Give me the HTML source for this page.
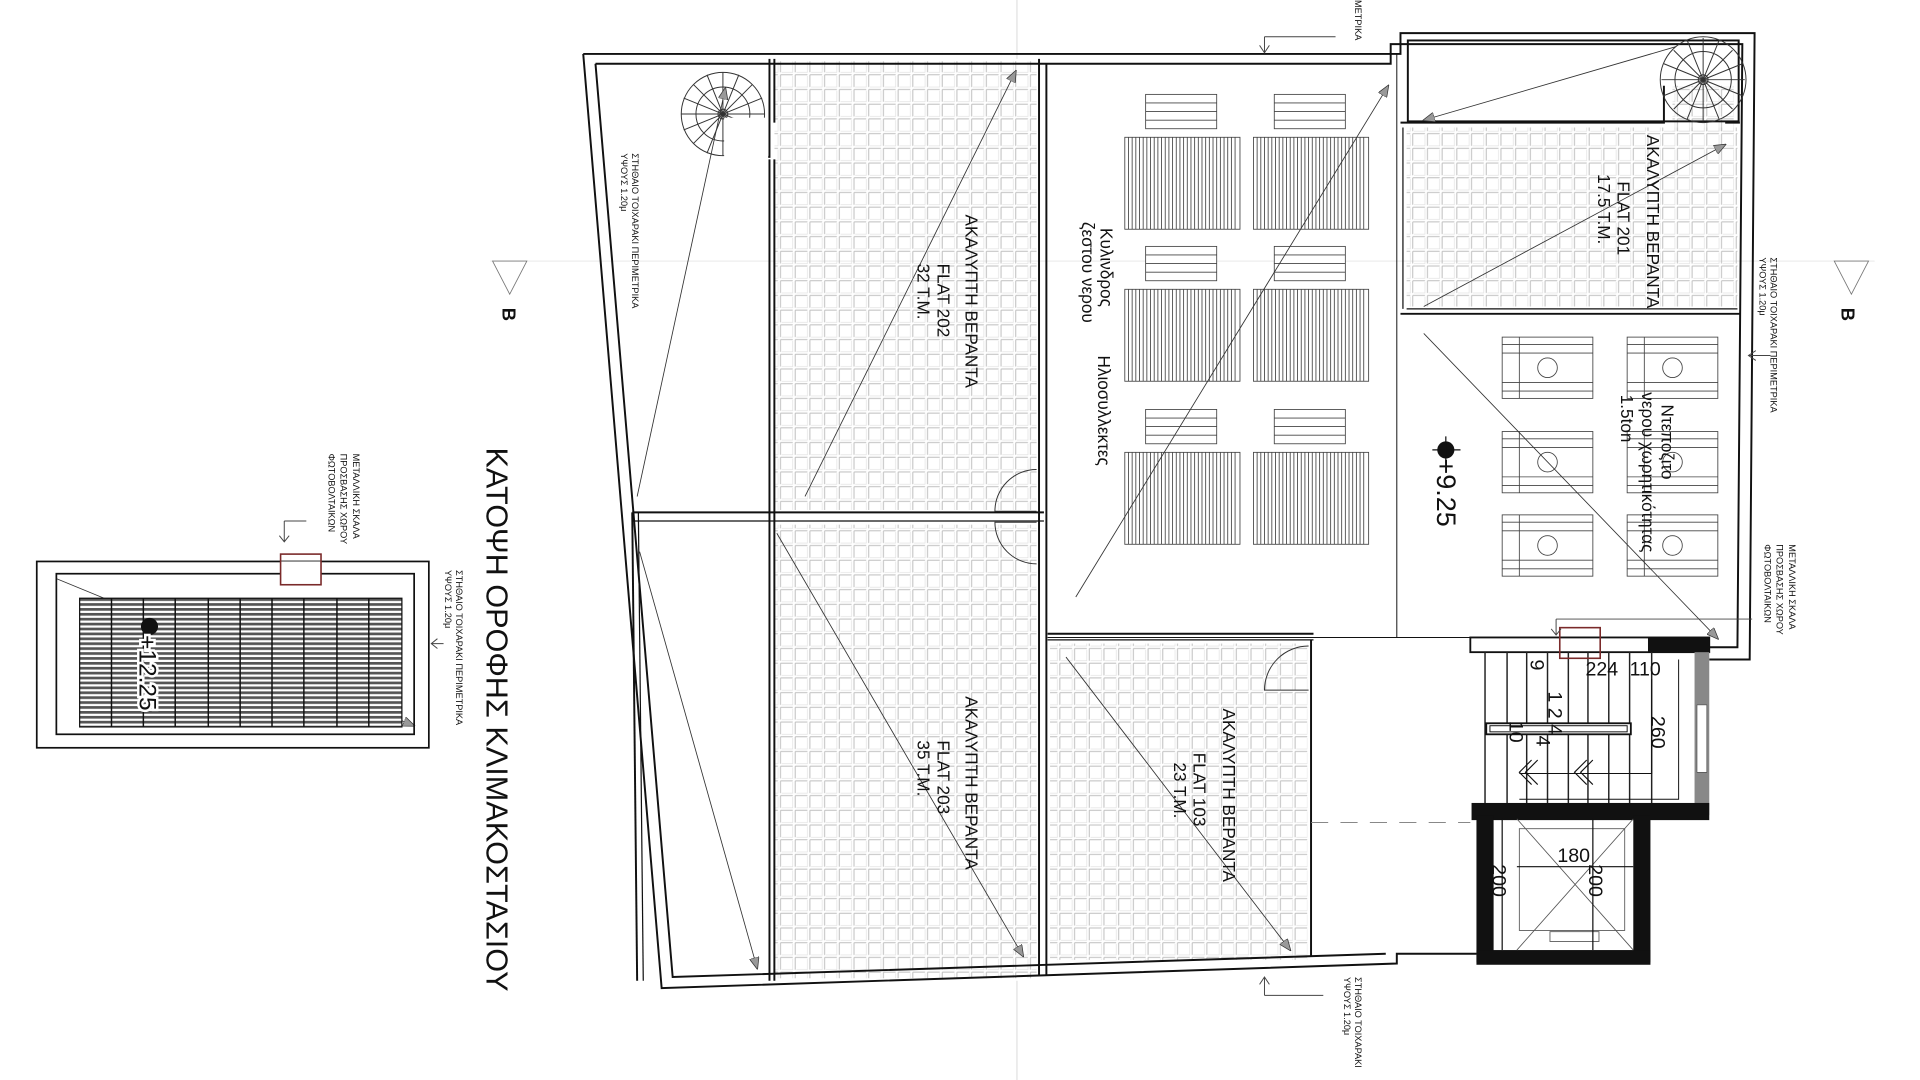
<!DOCTYPE html>
<html><head><meta charset="utf-8"><style>
html,body{margin:0;padding:0;background:#fff;width:1920px;height:1080px;overflow:hidden}
svg{display:block}
text{font-family:"Liberation Sans",sans-serif;fill:#111}
</style></head><body>
<svg width="1920" height="1080" viewBox="0 0 1567 881" preserveAspectRatio="none" xmlns="http://www.w3.org/2000/svg">
<defs>
<pattern id="tile" width="12" height="12" patternUnits="userSpaceOnUse">
<path d="M1,1 H11 M1,1 V11" stroke="#bdbdbd" stroke-width="0.8" fill="none"/>
<path d="M2,11 H11 V2" stroke="#e2e2e2" stroke-width="0.6" fill="none"/>
</pattern>
<pattern id="pv" width="3" height="4" patternUnits="userSpaceOnUse">
<rect width="3" height="4" fill="#fff"/><rect width="3" height="2.2" fill="#555"/>
</pattern>
<marker id="ah" markerWidth="10" markerHeight="8" refX="9" refY="4" orient="auto" markerUnits="userSpaceOnUse">
<path d="M0,0 L10,4 L0,8 Z" fill="#999" stroke="#333" stroke-width="0.6"/>
</marker>
</defs>
<rect width="1567" height="881" fill="#fff"/>
<line x1="830" y1="0" x2="830" y2="48" stroke="#ccc" stroke-width="0.6"/>
<line x1="830" y1="800" x2="830" y2="881" stroke="#ccc" stroke-width="0.6"/>
<line x1="400" y1="213" x2="1530" y2="213" stroke="#ddd" stroke-width="0.5"/>

<rect x="632" y="50" width="214" height="366" fill="url(#tile)"/>
<rect x="632" y="428" width="214" height="370" fill="url(#tile)"/>
<rect x="857" y="525" width="210" height="258" fill="url(#tile)"/>
<rect x="1148" y="104" width="270" height="146" fill="url(#tile)"/>
<rect x="1365" y="70" width="50" height="38" fill="url(#tile)"/>
<rect x="600" y="98" width="32" height="32" fill="#fff"/>

<g fill="none" stroke="#111" stroke-width="1.6">
<path d="M476,44 L1143,44 L1143,27 L1432,27 L1428,538 L1395,538"/>
<path d="M486,52 L1135,52 L1135,36 L1422,36 L1418,528 L1395,528"/>
<path d="M476,44 L540,806 L1140,786 L1140,778 L1205,778"/>
<path d="M486,52 L549,797 L1131,778"/>
<line x1="516" y1="418" x2="520" y2="800"/>
<line x1="521" y1="418" x2="525" y2="800" stroke-width="1"/>
<path d="M628,48 L628,128 L600,128 L600,100 M632,48 L632,100 M632,130 L632,800"/>
<line x1="628" y1="130" x2="628" y2="800"/>
<line x1="516" y1="418" x2="852" y2="418"/>
<line x1="516" y1="425" x2="852" y2="425" stroke-width="1"/>
<line x1="848" y1="48" x2="848" y2="795"/>
<line x1="854" y1="52" x2="854" y2="795"/>
<line x1="855" y1="517" x2="1072" y2="517"/>
<line x1="855" y1="522" x2="1072" y2="522" stroke-width="1"/>
<line x1="1070" y1="522" x2="1070" y2="780"/>
<line x1="1140" y1="44" x2="1140" y2="520" stroke-width="0.8"/>
<line x1="855" y1="520" x2="1205" y2="520" stroke-width="0.8"/>
<rect x="1149" y="33" width="270" height="66"/>
<path d="M1143,100 L1358,100 L1358,70 M1408,100 L1420,100"/>
<line x1="1143" y1="256" x2="1420" y2="256"/>
<line x1="1148" y1="252" x2="1418" y2="252" stroke-width="1"/>
<line x1="1145" y1="104" x2="1145" y2="252" stroke-width="1"/>
</g>
<g fill="none" stroke="#333" stroke-width="0.8">
<path d="M846,383 A34,34 0 0 0 812,417 L846,417"/>
<path d="M846,460 A34,34 0 0 1 812,426 L846,426"/>
<path d="M1068,527 A36,36 0 0 0 1032,563 L1068,563"/>
</g>
<g fill="none" stroke="#333" stroke-width="0.8">
<circle cx="590" cy="93" r="34"/><circle cx="590" cy="93" r="22"/><circle cx="590" cy="93" r="4"/>
<g id="sp1">
<line x1="590" y1="59" x2="590" y2="127"/><line x1="556" y1="93" x2="624" y2="93"/>
<line x1="566" y1="69" x2="614" y2="117"/><line x1="566" y1="117" x2="614" y2="69"/>
<line x1="577" y1="61" x2="603" y2="125"/><line x1="558" y1="80" x2="622" y2="106"/>
<line x1="558" y1="106" x2="622" y2="80"/><line x1="577" y1="125" x2="603" y2="61"/>
</g>
<circle cx="1390" cy="65" r="35"/><circle cx="1390" cy="65" r="23"/><circle cx="1390" cy="65" r="4"/>
<use href="#sp1" transform="translate(800,-28)"/>
</g>
<rect x="591" y="96" width="36" height="34" fill="#fff"/>

<g stroke="#444" stroke-width="0.7" fill="#fff">
<g id="sc">
<rect x="935" y="77" width="58" height="28"/>
<line x1="935" y1="84" x2="993" y2="84"/><line x1="935" y1="91" x2="993" y2="91"/><line x1="935" y1="98" x2="993" y2="98"/>
<rect x="918" y="112" width="94" height="75"/>
<path d="M921,112 V187 M924,112 V187 M927,112 V187 M930,112 V187 M933,112 V187 M936,112 V187 M939,112 V187 M942,112 V187 M945,112 V187 M948,112 V187 M951,112 V187 M954,112 V187 M957,112 V187 M960,112 V187 M963,112 V187 M966,112 V187 M969,112 V187 M972,112 V187 M975,112 V187 M978,112 V187 M981,112 V187 M984,112 V187 M987,112 V187 M990,112 V187 M993,112 V187 M996,112 V187 M999,112 V187 M1002,112 V187 M1005,112 V187 M1008,112 V187"/>
</g>
<use href="#sc" transform="translate(105,0)"/>
<use href="#sc" transform="translate(0,124)"/>
<use href="#sc" transform="translate(105,124)"/>
<use href="#sc" transform="translate(0,257)"/>
<use href="#sc" transform="translate(105,257)"/>
</g>
<g stroke="#444" stroke-width="0.7" fill="#fff">
<g id="tk">
<rect x="1226" y="275" width="74" height="50"/>
<path d="M1226,281 H1300 M1226,288 H1300 M1226,312 H1300 M1226,319 H1300 M1240,275 V325"/>
<circle cx="1263" cy="300" r="8"/>
</g>
<use href="#tk" transform="translate(102,0)"/>
<use href="#tk" transform="translate(0,77)"/>
<use href="#tk" transform="translate(102,77)"/>
<use href="#tk" transform="translate(0,145)"/>
<use href="#tk" transform="translate(102,145)"/>
</g>

<g stroke="#333" stroke-width="0.7" fill="none" marker-end="url(#ah)">
<line x1="520" y1="405" x2="592" y2="72"/>
<line x1="657" y1="405" x2="829" y2="58"/>
<line x1="878" y1="487" x2="1133" y2="70"/>
<line x1="522" y1="450" x2="618" y2="790"/>
<line x1="634" y1="435" x2="835" y2="780"/>
<line x1="870" y1="536" x2="1053" y2="775"/>
<line x1="1368" y1="38" x2="1162" y2="98"/>
<line x1="1162" y1="250" x2="1408" y2="118"/>
<line x1="1162" y1="272" x2="1402" y2="521"/>
<line x1="46" y1="472" x2="338" y2="592"/>
</g>

<g>
<rect x="1200" y="520" width="195" height="12" fill="#fff" stroke="#111" stroke-width="1.5"/>
<rect x="1345" y="520" width="50" height="12" fill="#111"/>
<rect x="1383" y="532" width="12" height="133" fill="#888"/>
<rect x="1385" y="575" width="8" height="55" fill="#fff" stroke="#444" stroke-width="0.5"/>
<rect x="1201" y="655" width="194" height="14" fill="#111"/>
<g stroke="#222" stroke-width="1.2">
<path d="M1212,532 V655 M1230,532 V655 M1246,532 V655 M1263,532 V655 M1280,532 V655 M1296,532 V655 M1313,532 V655 M1330,532 V655 M1348,532 V655"/>
</g>
<rect x="1213" y="590" width="118" height="9" fill="#fff" stroke="#111" stroke-width="1.5"/>
<rect x="1216" y="592" width="112" height="5" fill="none" stroke="#111" stroke-width="0.8"/>
<path d="M1348,554 V631 H1240" fill="none" stroke="#111" stroke-width="0.8"/>
<path d="M1370,538 V652 H1240" fill="none" stroke="#111" stroke-width="0.8"/>
<path d="M1250,620 L1240,630 L1250,640 M1255,620 L1245,630 L1255,640 M1295,620 L1285,630 L1295,640 M1300,620 L1290,630 L1300,640" stroke="#111" fill="none" stroke-width="0.9"/>
<g font-size="16">
<text transform="translate(1249,538) rotate(90)">9</text>
<text transform="translate(1264,564) rotate(90)">1 2 4</text>
<text transform="translate(1232,588) rotate(90)">10</text>
<text transform="translate(1254,600) rotate(90)">4</text>
<text x="1294" y="551">224</text>
<text x="1330" y="551">110</text>
<text transform="translate(1348,584) rotate(90)">260</text>
</g>
<rect x="1205" y="665" width="14" height="120" fill="#111"/>
<rect x="1333" y="665" width="14" height="120" fill="#111"/>
<rect x="1205" y="775" width="142" height="12" fill="#111"/>
<g stroke="#555" fill="none" stroke-width="0.7">
<rect x="1240" y="676" width="86" height="83"/>
<line x1="1238" y1="668" x2="1333" y2="775"/><line x1="1333" y1="668" x2="1238" y2="775"/>
<rect x="1265" y="760" width="40" height="8"/>
</g>
<line x1="1226" y1="668" x2="1226" y2="775" stroke="#111" stroke-width="1"/>
<line x1="1300" y1="668" x2="1300" y2="775" stroke="#111" stroke-width="1"/>
<line x1="1238" y1="707" x2="1333" y2="707" stroke="#111" stroke-width="1"/>
<g font-size="16"><text x="1271" y="703">180</text>
<text transform="translate(1218,705) rotate(90)">200</text>
<text transform="translate(1297,705) rotate(90)">200</text></g>
<line x1="1070" y1="671" x2="1200" y2="671" stroke="#777" stroke-width="0.8" stroke-dasharray="14,10"/>
</g>
<rect x="1273" y="512" width="33" height="25" fill="none" stroke="#7a2a2a" stroke-width="1.3"/>

<rect x="30" y="458" width="320" height="152" fill="none" stroke="#111" stroke-width="1.4"/>
<rect x="46" y="468" width="292" height="131" fill="none" stroke="#111" stroke-width="1.4"/>
<rect x="65" y="488" width="263" height="105" fill="url(#pv)" stroke="#111" stroke-width="1"/>
<g stroke="#111" stroke-width="1.2"><path d="M91,488 V593 M117,488 V593 M143,488 V593 M170,488 V593 M196,488 V593 M222,488 V593 M248,488 V593 M275,488 V593 M301,488 V593"/></g>
<rect x="229" y="458" width="33" height="12" fill="#fff"/>
<rect x="229" y="452" width="33" height="25" fill="none" stroke="#7a2a2a" stroke-width="1.3"/>
<circle cx="122" cy="511" r="7" fill="#111"/>
<text transform="translate(114,518) rotate(90)" font-size="20" fill="#fff" stroke="#fff" stroke-width="4">+12.25</text>
<text transform="translate(114,518) rotate(90)" font-size="20">+12.25</text>

<circle cx="1180" cy="367" r="7" fill="#111"/>
<path d="M1169,367 H1192 M1180,356 V378" stroke="#111"/>
<text transform="translate(1173,374) rotate(90)" font-size="22">+9.25</text>

<g font-size="14">
<text transform="translate(788,175) rotate(90)">ΑΚΑΛΥΠΤΗ ΒΕΡΑΝΤΑ</text>
<text transform="translate(765,215) rotate(90)">FLAT 202</text>
<text transform="translate(749,215) rotate(90)">32 Τ.Μ.</text>
<text transform="translate(788,568) rotate(90)">ΑΚΑΛΥΠΤΗ ΒΕΡΑΝΤΑ</text>
<text transform="translate(765,604) rotate(90)">FLAT 203</text>
<text transform="translate(749,604) rotate(90)">35 Τ.Μ.</text>
<text transform="translate(998,578) rotate(90)">ΑΚΑΛΥΠΤΗ ΒΕΡΑΝΤΑ</text>
<text transform="translate(974,614) rotate(90)">FLAT 103</text>
<text transform="translate(958,622) rotate(90)">23 Τ.Μ.</text>
<text transform="translate(1344,110) rotate(90)">ΑΚΑΛΥΠΤΗ ΒΕΡΑΝΤΑ</text>
<text transform="translate(1320,148) rotate(90)">FLAT 201</text>
<text transform="translate(1304,142) rotate(90)">17.5 Τ.Μ.</text>
<text transform="translate(898,186) rotate(90)">Κυλινδρος</text>
<text transform="translate(883,181) rotate(90)">ζεστου νερου</text>
<text transform="translate(896,290) rotate(90)">Ηλιοσυλλεκτες</text>
<text transform="translate(1356,330) rotate(90)">Ντεποζιτο</text>
<text transform="translate(1340,320) rotate(90)">νερου χωρητικότητας</text>
<text transform="translate(1323,322) rotate(90)">1.5ton</text>
</g>
<g font-size="7.5" fill="#666">
<text transform="translate(516,125) rotate(90)" fill="#666">ΣΤΗΘΑΙΟ ΤΟΙΧΑΡΑΚΙ   ΠΕΡΙΜΕΤΡΙΚΑ</text>
<text transform="translate(507,125) rotate(90)" fill="#666">ΥΨΟΥΣ 1.20μ</text>
<text transform="translate(1445,210) rotate(90)" fill="#666">ΣΤΗΘΑΙΟ ΤΟΙΧΑΡΑΚΙ   ΠΕΡΙΜΕΤΡΙΚΑ</text>
<text transform="translate(1436,210) rotate(90)" fill="#666">ΥΨΟΥΣ 1.20μ</text>
<text transform="translate(1460,444) rotate(90)" fill="#666">ΜΕΤΑΛΛΙΚΗ ΣΚΑΛΑ</text>
<text transform="translate(1450,444) rotate(90)" fill="#666">ΠΡΟΣΒΑΣΗΣ ΧΩΡΟΥ</text>
<text transform="translate(1440,444) rotate(90)" fill="#666">ΦΩΤΟΒΟΛΤΑΙΚΩΝ</text>
<text transform="translate(288,370) rotate(90)" fill="#666">ΜΕΤΑΛΛΙΚΗ ΣΚΑΛΑ</text>
<text transform="translate(278,370) rotate(90)" fill="#666">ΠΡΟΣΒΑΣΗΣ ΧΩΡΟΥ</text>
<text transform="translate(268,370) rotate(90)" fill="#666">ΦΩΤΟΒΟΛΤΑΙΚΩΝ</text>
<text transform="translate(372,465) rotate(90)" fill="#666">ΣΤΗΘΑΙΟ ΤΟΙΧΑΡΑΚΙ   ΠΕΡΙΜΕΤΡΙΚΑ</text>
<text transform="translate(363,465) rotate(90)" fill="#666">ΥΨΟΥΣ 1.20μ</text>
<text transform="translate(1106,797) rotate(90)" fill="#666">ΣΤΗΘΑΙΟ ΤΟΙΧΑΡΑΚΙ</text>
<text transform="translate(1097,797) rotate(90)" fill="#666">ΥΨΟΥΣ 1.20μ</text>
<text transform="translate(1106,0) rotate(90)" fill="#666">ΜΕΤΡΙΚΑ</text>
</g>
<g stroke="#444" stroke-width="0.8" fill="none">
<path d="M1032,30 V43 M1028,37 L1032,43 L1036,37 M1032,30 H1090"/>
<path d="M1032,812 V797 M1028,803 L1032,797 L1036,803 M1032,812 H1080"/>
<path d="M1427,290 H1445 M1433,286 L1427,290 L1433,294"/>
<path d="M232,425 V442 M228,437 L232,442 L236,437 M232,425 H250"/>
<path d="M352,525 H362 M357,521 L352,525 L357,529"/>
<path d="M1270,505 V518 M1266,513 L1270,518 L1274,513 M1270,505 H1430"/>
</g>
<g stroke="#777" stroke-width="0.7" fill="none">
<path d="M402,213 L430,213 L416,240 Z"/>
<path d="M1497,213 L1525,213 L1511,240 Z"/>
</g>
<text transform="translate(410,251) rotate(90)" font-size="15" font-weight="bold">B</text>
<text transform="translate(1503,251) rotate(90)" font-size="15" font-weight="bold">B</text>
<text transform="translate(397,365) rotate(90)" font-size="25">ΚΑΤΟΨΗ ΟΡΟΦΗΣ ΚΛΙΜΑΚΟΣΤΑΣΙΟΥ</text>
</svg>
</body></html>
